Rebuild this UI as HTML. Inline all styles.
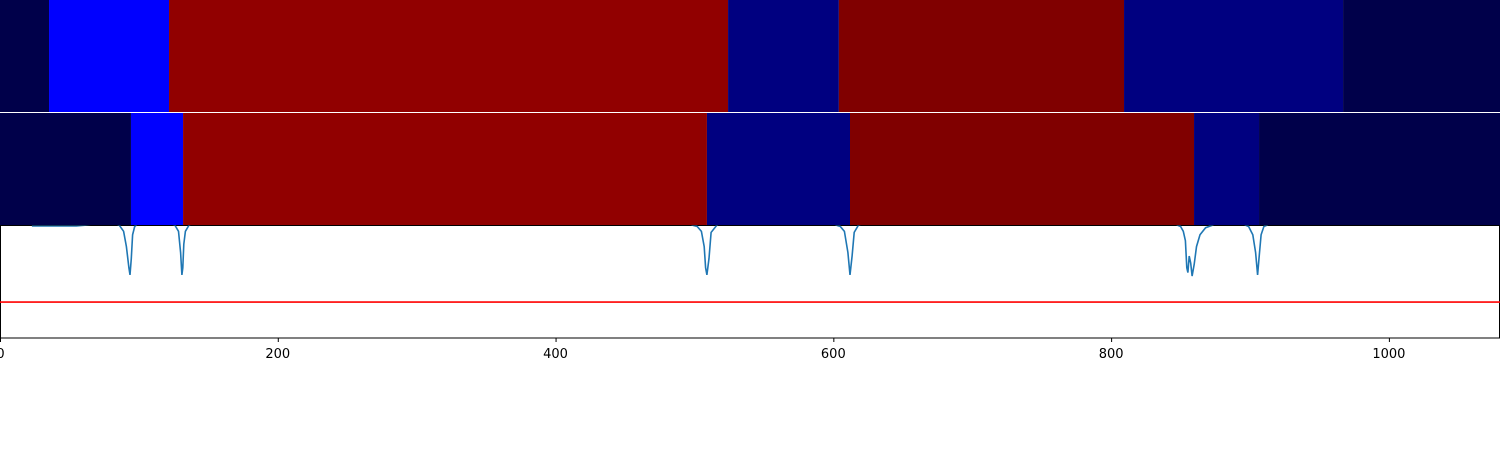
<!DOCTYPE html>
<html><head><meta charset="utf-8"><style>
html,body{margin:0;padding:0;background:#fff;width:1500px;height:450px;overflow:hidden}
svg{display:block}
text{font-family:"DejaVu Sans","Liberation Sans",sans-serif;font-size:13px;fill:#000}
</style></head><body>
<svg id="chart" width="1500" height="450">
<defs><clipPath id="plotclip"><rect x="0" y="225.5" width="1500" height="113"/></clipPath></defs>
<g id="rows"></g>
<g id="trace"></g>
<g id="axis"></g>
</svg>
<script>
// Data
const xDomain = [0, 1080];
const row1Bounds = [0, 35.3, 121.7, 524.2, 604, 809.3, 967, 1080];
const row1Colors = ["#00004a", "#0000ff", "#910000", "#000080", "#800000", "#000080", "#00004a"];
const row2Bounds = [0, 94.3, 131.8, 509, 612, 859.7, 906.5, 1080];
const row2Colors = ["#00004a", "#0000ff", "#910000", "#000080", "#800000", "#000080", "#00004a"];
const traceX = [23,55,80,86,89,91,92.8,93.6,94.5,95.5,97,100,120,126,128.5,130,131,131.6,132.3,133.5,136,140,150,480,496,502,505,507,508,509,510.5,512,516,520,590,600,605,608,610.5,612,613.5,615,618,624,835,846,850,852,853.5,854.5,855.3,856.2,857.3,858.3,859.8,861.5,864,868,875,884,895,899,902,904,905.5,906.5,908,910,914,920,940];
const traceV = [0.975,0.975,1.0,0.98,0.93,0.8,0.62,0.56,0.7,0.9,0.97,1.0,1.0,0.98,0.93,0.75,0.56,0.62,0.82,0.93,0.98,1.0,1.0,1.0,0.99,0.97,0.93,0.8,0.62,0.56,0.7,0.92,0.98,1.0,1.0,0.99,0.97,0.93,0.75,0.56,0.72,0.92,0.98,1.0,1.0,0.99,0.97,0.93,0.85,0.62,0.58,0.72,0.66,0.55,0.65,0.8,0.9,0.96,0.99,1.0,0.99,0.97,0.9,0.75,0.56,0.7,0.9,0.97,0.99,1.0,1.0];
const refLevel = [0.33];
const xTicks = [0, 200, 400, 600, 800, 1000];

const NS = "http://www.w3.org/2000/svg";
const W = 1500;
const xs = v => (v - xDomain[0]) / (xDomain[1] - xDomain[0]) * W;
const ys = v => 223 + (1 - v) * 118;
function mk(tag, attrs, parent){const e=document.createElementNS(NS,tag);for(const k in attrs)e.setAttribute(k,attrs[k]);parent.appendChild(e);return e;}

const rows = document.getElementById('rows');
function drawRow(bounds, colors, y0, h, name){
  for(let i=0;i<colors.length;i++){
    const r = mk('rect',{x:xs(bounds[i]),y:y0,width:xs(bounds[i+1])-xs(bounds[i]),height:h,fill:colors[i]},rows);
    
    
  }
}
drawRow(row1Bounds,row1Colors,0,112,'top-row');
drawRow(row2Bounds,row2Colors,113,112,'middle-row');

const tr = document.getElementById('trace');
const frame = mk('rect',{x:0.5,y:225.5,width:1499,height:112.5,fill:'none',stroke:'#000','stroke-width':1},tr);


let d='';
traceX.forEach((x,i)=>{d+=(i?'L':'M')+xs(x).toFixed(1)+','+ys(traceV[i]).toFixed(1);});
const path = mk('path',{d:d,fill:'none',stroke:'#1f77b4','stroke-width':1.6,'clip-path':'url(#plotclip)'},tr);


const ref = mk('line',{x1:0,x2:W,y1:ys(refLevel[0]),y2:ys(refLevel[0]),stroke:'#ff0000','stroke-width':1.6},tr);


const ax = document.getElementById('axis');
xTicks.forEach(t=>{
  const l = mk('line',{x1:xs(t)+0.5,x2:xs(t)+0.5,y1:338,y2:342,stroke:'#000','stroke-width':1},ax);
  
  
  const tx = mk('text',{x:xs(t)+(t===0?0.5:0),y:358,'text-anchor':'middle'},ax);
  tx.textContent = t;
  
  
});
</script>
</body></html>
